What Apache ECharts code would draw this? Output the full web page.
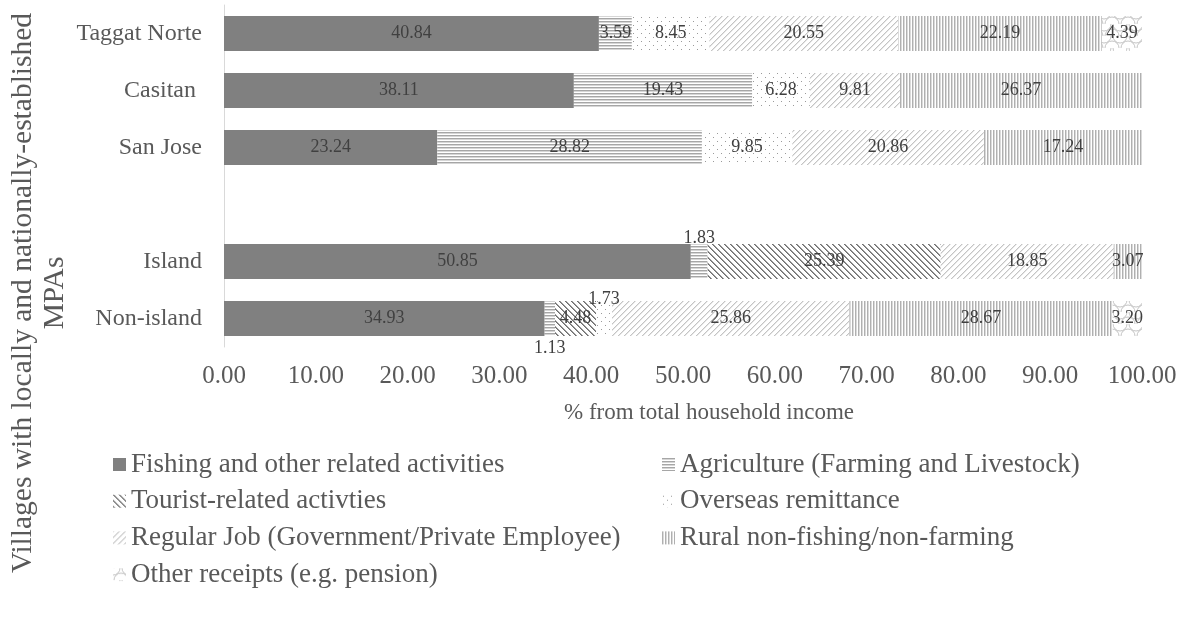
<!DOCTYPE html>
<html>
<head>
<meta charset="utf-8">
<title>Household income sources by village</title>
<script src="https://cdn.jsdelivr.net/npm/echarts@6/dist/echarts.min.js"></script>
<style>
  html, body { margin: 0; padding: 0; background: #ffffff; }
  #chart { width: 1186px; height: 625px; }
</style>
</head>
<body>
<div id="chart"></div>
<script>
// Villages, bottom to top; the empty entry leaves a gap between the two groups
const categories = ['Non-island', 'Island', '', 'San Jose', 'Casitan ', 'Taggat Norte'];

// Share of total household income (%) per source
const fishing     = [34.93, 50.85, null, 23.24, 38.11, 40.84];
const agriculture = [1.13, 1.83, null, 28.82, 19.43, 3.59];
const tourist     = [4.48, 25.39, null, null, null, null];
const overseas    = [1.73, null, null, 9.85, 6.28, 8.45];
const regularJob  = [25.86, 18.85, null, 20.86, 9.81, 20.55];
const rural       = [28.67, 3.07, null, 17.24, 26.37, 22.19];
const other       = [3.20, null, null, null, null, 4.39];

const seriesNames = [
  'Fishing and other related activities',
  'Agriculture (Farming and Livestock)',
  'Tourist-related activties',
  'Overseas remittance',
  'Regular Job (Government/Private Employee)',
  'Rural non-fishing/non-farming',
  'Other receipts (e.g. pension)'
];

const xTicks = { min: 0, max: 100, interval: 10 };

const FONT = '"Liberation Serif", "Times New Roman", serif';

// ---- fill patterns -------------------------------------------------------
function pattern(w, h, draw) {
  const c = document.createElement('canvas');
  c.width = w; c.height = h;
  const ctx = c.getContext('2d');
  ctx.fillStyle = '#ffffff';
  ctx.fillRect(0, 0, w, h);
  draw(ctx, w, h);
  return { image: c, repeat: 'repeat' };
}

const fills = [
  '#808080',
  // horizontal lines
  pattern(4, 3, (ctx) => {
    ctx.fillStyle = '#a6a6a6'; ctx.fillRect(0, 0, 4, 1);
    ctx.fillStyle = '#d6d6d6'; ctx.fillRect(0, 1, 4, 1);
  }),
  // dark downward diagonals
  pattern(6, 6, (ctx) => {
    for (let i = 0; i < 6; i++) {
      ctx.fillStyle = '#6e6e6e'; ctx.fillRect(i, i, 1, 1);
      ctx.fillStyle = '#9c9c9c'; ctx.fillRect((i + 1) % 6, i, 1, 1);
    }
  }),
  // sparse dots
  pattern(8, 8, (ctx) => {
    ctx.fillStyle = '#9a9a9a';
    ctx.fillRect(1, 1, 1, 1);
    ctx.fillRect(5, 5, 1, 1);
  }),
  // light upward diagonals
  pattern(6, 6, (ctx) => {
    for (let i = 0; i < 6; i++) {
      ctx.fillStyle = '#c4c4c4'; ctx.fillRect(5 - i, i, 1, 1);
      ctx.fillStyle = '#e6e6e6'; ctx.fillRect((6 - i) % 6, i, 1, 1);
    }
  }),
  // vertical lines
  pattern(3, 4, (ctx) => {
    ctx.fillStyle = '#b0b0b0'; ctx.fillRect(0, 0, 1, 4);
    ctx.fillStyle = '#dadada'; ctx.fillRect(1, 0, 1, 4);
  }),
  // scalloped curves
  pattern(16, 12, (ctx) => {
    ctx.strokeStyle = '#c4c4c4';
    ctx.lineWidth = 1;
    ctx.beginPath(); ctx.arc(8, 12, 7, Math.PI, 2 * Math.PI); ctx.stroke();
    ctx.beginPath(); ctx.arc(0, 0, 7, 0, Math.PI / 2); ctx.stroke();
    ctx.beginPath(); ctx.arc(16, 0, 7, Math.PI / 2, Math.PI); ctx.stroke();
  })
];

const seriesData = [fishing, agriculture, tourist, overseas, regularJob, rural, other];

// values too thin for an inside label are written beside the bar
const outsideLabel = {
  1: { 0: ['bottom', 3], 1: ['top', -3] },
  3: { 0: ['top', -7] }
};

const labelStyle = {
  fontFamily: FONT,
  fontSize: 18,
  color: '#404040'
};

const series = seriesData.map((arr, si) => ({
  name: seriesNames[si],
  type: 'bar',
  stack: 'income',
  barWidth: 35,
  itemStyle: { color: fills[si] },
  label: Object.assign({
    show: true,
    position: 'inside',
    formatter: (p) => p.value == null ? '' : Number(p.value).toFixed(2)
  }, labelStyle),
  emphasis: { disabled: true },
  data: arr.map((v, ci) => {
    if (v == null) return null;
    const pos = outsideLabel[si] && outsideLabel[si][ci];
    if (pos) {
      return { value: v, label: { position: pos[0], distance: pos[1] } };
    }
    return v;
  })
}));

const legendText = { fontFamily: FONT, fontSize: 27, color: '#595959', lineHeight: 27 };

const chart = echarts.init(document.getElementById('chart'), null, { renderer: 'canvas' });
chart.setOption({
  animation: false,
  backgroundColor: '#ffffff',
  grid: { left: 224, right: 44, top: 5, bottom: 278 },
  xAxis: {
    type: 'value',
    min: xTicks.min,
    max: xTicks.max,
    interval: xTicks.interval,
    axisLine: { show: false },
    axisTick: { show: false },
    splitLine: { show: false },
    axisLabel: {
      margin: 17,
      fontFamily: FONT,
      fontSize: 25,
      color: '#595959',
      formatter: (v) => v.toFixed(2)
    },
    name: '% from total household income',
    nameLocation: 'middle',
    nameGap: 54,
    nameTextStyle: {
      fontFamily: FONT,
      fontSize: 23,
      color: '#595959',
      padding: [0, 0, 0, 52]
    }
  },
  yAxis: {
    type: 'category',
    data: categories,
    axisLine: { show: true, lineStyle: { color: '#d9d9d9', width: 1 } },
    axisTick: { show: false },
    axisLabel: {
      margin: 22,
      fontFamily: FONT,
      fontSize: 24,
      color: '#595959'
    }
  },
  legend: [
    {
      orient: 'vertical',
      left: 113,
      top: 451,
      padding: 0,
      itemWidth: 13,
      itemHeight: 13,
      itemGap: 9.7,
      icon: 'rect',
      textStyle: legendText,
      data: [seriesNames[0], seriesNames[2], seriesNames[4], seriesNames[6]]
    },
    {
      orient: 'vertical',
      left: 662,
      top: 451,
      padding: 0,
      itemWidth: 13,
      itemHeight: 13,
      itemGap: 9.7,
      icon: 'rect',
      textStyle: legendText,
      data: [seriesNames[1], seriesNames[3], seriesNames[5]]
    }
  ],
  graphic: [
    {
      type: 'text',
      x: 39,
      y: 293,
      rotation: Math.PI / 2,
      style: {
        text: 'Villages with locally and nationally-established\nMPAs',
        font: '29.5px ' + FONT,
        fill: '#595959',
        align: 'center',
        verticalAlign: 'middle',
        lineHeight: 32
      }
    }
  ],
  series: series
});
</script>
</body>
</html>
